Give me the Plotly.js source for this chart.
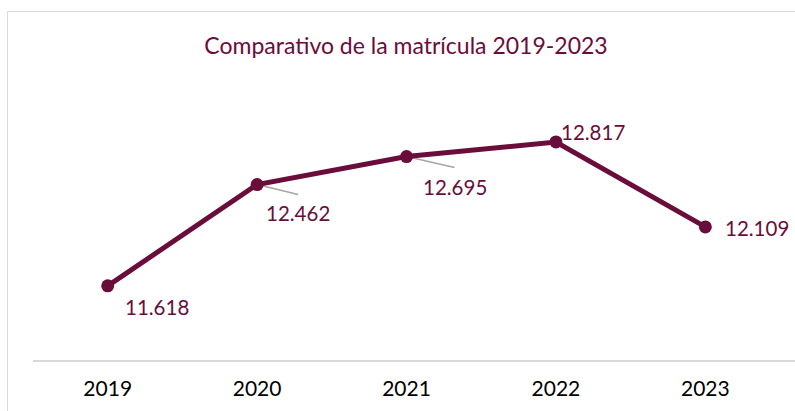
<!DOCTYPE html>
<html>
<head>
<meta charset="utf-8">
<script src="https://cdn.plot.ly/plotly-3.0.1.min.js"></script>
<style>html,body{margin:0;padding:0;background:#fff;}#chart{width:795px;height:411px;}</style>
</head>
<body>
<div id="chart"></div>
<script>
const years = ['2019', '2020', '2021', '2022', '2023'];
const matricula = [11618, 12462, 12695, 12817, 12109];
const labels = ['11.618', '12.462', '12.695', '12.817', '12.109'];
const labelShiftX = [49, 41, 48, 37, 52];
const labelShiftY = [-21, -28, -30, 10, -1];

const maroon = '#6B0D3A';
const font = 'Lato, "Open Sans", sans-serif';
const idx = years.map((_, i) => i);

const annotations = idx.map(i => ({
  x: i, y: matricula[i], xref: 'x', yref: 'y',
  text: labels[i], showarrow: false,
  xanchor: 'center', yanchor: 'middle',
  xshift: labelShiftX[i], yshift: labelShiftY[i],
  font: {family: font, size: 20.5, color: maroon}
}));

const leaders = [
  {i: 1, dx: 41, dy: -10},
  {i: 2, dx: 48, dy: -11}
];
const shapes = leaders.map(l => ({
  type: 'line', xref: 'x', yref: 'y',
  xsizemode: 'pixel', ysizemode: 'pixel',
  xanchor: idx[l.i], yanchor: matricula[l.i],
  x0: 0, y0: 0, x1: l.dx, y1: l.dy,
  line: {color: '#A6A6A6', width: 1.5},
  layer: 'below'
}));
shapes.push({
  type: 'rect', xref: 'paper', yref: 'paper',
  x0: -0.0335, x1: 1.05, y0: -0.4, y1: 1.452,
  line: {color: '#D9D9D9', width: 1}, fillcolor: 'rgba(0,0,0,0)', layer: 'below'
});

const trace = {
  x: idx, y: matricula, type: 'scatter', mode: 'lines+markers',
  line: {color: maroon, width: 5},
  marker: {color: maroon, size: 13},
  hoverinfo: 'none', cliponaxis: false
};

const layout = {
  width: 795, height: 411,
  margin: {l: 33, r: 0, t: 120, b: 51, pad: 0},
  paper_bgcolor: '#fff', plot_bgcolor: '#fff',
  showlegend: false,
  title: {
    text: 'Comparativo de la matrícula 2019-2023',
    font: {family: font, size: 23, color: maroon},
    xref: 'container', x: 0.5107, xanchor: 'center',
    yref: 'container', y: 1 - 46 / 411, yanchor: 'middle'
  },
  xaxis: {
    range: [-0.5, 4.6],
    tickvals: idx, ticktext: years,
    showgrid: false, zeroline: false,
    showline: true, linecolor: '#D9D9D9', linewidth: 1.5,
    ticks: 'outside', ticklen: 9, tickcolor: 'rgba(0,0,0,0)',
    tickfont: {family: font, size: 21, color: '#000'}
  },
  yaxis: {
    range: [11000, 13000], visible: false, showgrid: false, zeroline: false
  },
  annotations: annotations,
  shapes: shapes
};

Plotly.newPlot('chart', [trace], layout, {displayModeBar: false, staticPlot: true});
</script>
</body>
</html>
